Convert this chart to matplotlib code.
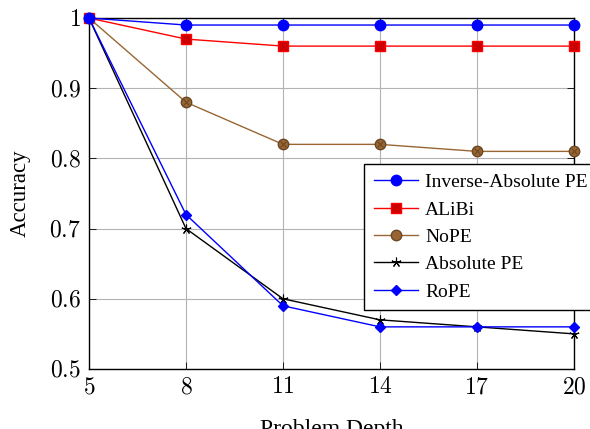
import numpy as np
import matplotlib.pyplot as plt
from matplotlib.ticker import FixedLocator, FuncFormatter

depths = [5, 8, 11, 14, 17, 20]
inverse_abs = [1.0, 0.99, 0.99, 0.99, 0.99, 0.99]
alibi = [1.0, 0.97, 0.96, 0.96, 0.96, 0.96]
nope = [1.0, 0.88, 0.82, 0.82, 0.81, 0.81]
absolute = [1.0, 0.70, 0.60, 0.57, 0.56, 0.55]
rope = [1.0, 0.72, 0.59, 0.56, 0.56, 0.56]
y_ticks = [0.5, 0.6, 0.7, 0.8, 0.9, 1.0]

plt.rcParams['mathtext.fontset'] = 'cm'
plt.rcParams['font.family'] = ['Liberation Serif', 'DejaVu Serif']

fig = plt.figure(figsize=(5.9, 4.29), dpi=100)
ax = fig.add_axes([0.1508, 0.1399, 0.8221, 0.8181])

ax.plot(depths, inverse_abs, color='blue', lw=1, marker='o', ms=7.5,
        mfc='blue', mec='blue', label='Inverse-Absolute PE', clip_on=False, zorder=5)
ax.plot(depths, alibi, color='red', lw=1, marker='s', ms=7.5,
        mfc='#cc0000', mec='red', label='ALiBi', clip_on=False, zorder=4)
ax.plot(depths, nope, color='#996633', lw=1, marker='o', ms=7.5,
        mfc='#996633', mec='#6b4723', label='NoPE', clip_on=False, zorder=4)
ax.plot(depths, nope, ls='none', marker='x', ms=5, mec='#6b4723', mew=0.8,
        clip_on=False, zorder=4)
ax.plot(depths, absolute, color='black', lw=1, marker=(5, 2, 0), ms=7,
        mec='black', mew=0.8, label='Absolute PE', clip_on=False, zorder=4)
ax.plot(depths, rope, color='blue', lw=1, marker='D', ms=5.5,
        mfc='blue', mec='blue', label='RoPE', clip_on=False, zorder=5)

ax.set_xlim(5, 20)
ax.set_ylim(0.5, 1.0)
ax.xaxis.set_major_locator(FixedLocator(depths))
ax.yaxis.set_major_locator(FixedLocator(y_ticks))
ax.xaxis.set_major_formatter(FuncFormatter(lambda v, p: r'$%d$' % v))
ax.yaxis.set_major_formatter(FuncFormatter(lambda v, p: r'$%g$' % round(v, 1)))
ax.tick_params(direction='in', length=5, width=0.6, top=True, right=True,
               labelsize=17, colors='black', pad=6)
ax.grid(True, color='#b3b3b3', lw=0.8)
ax.set_axisbelow(True)
for s in ax.spines.values():
    s.set_linewidth(1)

ax.set_xlabel('Problem Depth', fontsize=17, labelpad=15)
ax.set_ylabel('Accuracy', fontsize=16.5, va='center')
ax.yaxis.set_label_coords(-0.142, 0.5)

leg = ax.legend(loc='upper left', bbox_to_anchor=(0.617, 0.618), bbox_transform=fig.transFigure,
                fontsize=14, frameon=True, fancybox=False, edgecolor='black',
                framealpha=1, handlelength=2.3, borderpad=0.5, labelspacing=0.5,
                handletextpad=0.35, borderaxespad=0)
leg.get_frame().set_linewidth(1)
leg.set_zorder(10)

fig.savefig('out.png', dpi=100)
